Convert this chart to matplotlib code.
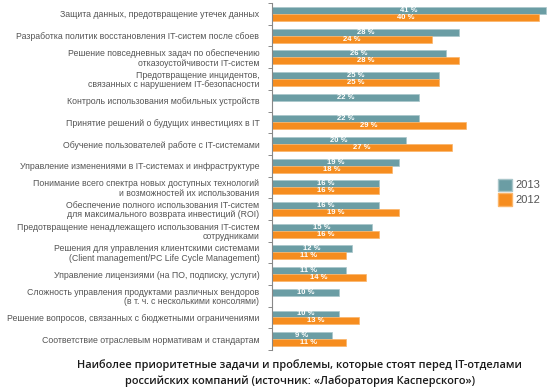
import matplotlib
matplotlib.use('Agg')
import numpy as np
from matplotlib import pyplot as plt
from matplotlib.patches import Patch

categories = [
    'Защита данных, предотвращение утечек данных',
    'Разработка политик восстановления IT-систем после сбоев',
    'Решение повседневных задач по обеспечению\nотказоустойчивости IT-систем',
    'Предотвращение инцидентов,\nсвязанных с нарушением IT-безопасности',
    'Контроль использования мобильных устройств',
    'Принятие решений о будущих инвестициях в IT',
    'Обучение пользователей работе с IT-системами',
    'Управление изменениями в IT-системах и инфраструктуре',
    'Понимание всего спектра новых доступных технологий\nи возможностей их использования',
    'Обеспечение полного использования IT-систем\nдля максимального возврата инвестиций (ROI)',
    'Предотвращение ненадлежащего использования IT-систем\nсотрудниками',
    'Решения для управления клиентскими системами\n(Client management/PC Life Cycle Management)',
    'Управление лицензиями (на ПО, подписку, услуги)',
    'Сложность управления продуктами различных вендоров\n(в т. ч. с несколькими консолями)',
    'Решение вопросов, связанных с бюджетными ограничениями',
    'Соответствие отраслевым нормативам и стандартам',
]
values_2013 = [41, 28, 26, 25, 22, 22, 20, 19, 16, 16, 15, 12, 11, 10, 10, 9]
values_2012 = [40, 24, 28, 25, None, 29, 27, 18, 16, 19, 16, 11, 14, None, 13, 11]

teal = '#6b9da4'
orange = '#f68d1f'

plt.rcParams['font.family'] = ['Liberation Sans', 'DejaVu Sans']

fig = plt.figure(figsize=(5.5, 3.88), dpi=100)
ax = fig.add_axes([0.4945, 0.098, 0.502, 0.894])

n = len(categories)
y = np.arange(n)
h = 0.32
for i in range(n):
    v13 = values_2013[i]
    v12 = values_2012[i]
    ax.barh(y[i] - h / 2, v13, height=h, color=teal, edgecolor='#a9c6ca', linewidth=0.5)
    ax.text(v13 / 2, y[i] - h / 2, '%d %%' % v13, ha='center', va='center',
            color='white', fontsize=5.5, fontweight='bold')
    if v12 is not None:
        ax.barh(y[i] + h / 2, v12, height=h, color=orange, edgecolor='#fbb56a', linewidth=0.5)
        ax.text(v12 / 2, y[i] + h / 2, '%d %%' % v12, ha='center', va='center',
                color='white', fontsize=5.5, fontweight='bold')

ax.set_xlim(0, 41.3)
ax.set_ylim(n - 0.5, -0.5)
ax.set_yticks(y)
ax.set_yticklabels(categories, fontsize=6.3, color='#555555', linespacing=1.05)
ax.set_yticks(np.arange(-0.5, n, 1.0), minor=True)
ax.tick_params(axis='y', which='major', length=0, pad=9)
ax.tick_params(axis='y', which='minor', length=3, color='#777777', width=0.6)
ax.set_xticks([])
for s in ['top', 'right', 'bottom']:
    ax.spines[s].set_visible(False)
ax.spines['left'].set_color('#888888')
ax.spines['left'].set_linewidth(0.8)

handles = [Patch(facecolor=teal, edgecolor='#a9c6ca', label='2013'),
           Patch(facecolor=orange, edgecolor='#fbb56a', label='2012')]
fig.legend(handles=handles, loc='center left', bbox_to_anchor=(0.895, 0.505),
           frameon=False, fontsize=8, labelcolor='#555555',
           handlelength=1.3, handleheight=1.3, handletextpad=0.3, labelspacing=0.25,
           borderpad=0)

fig.text(0.545, 0.058, 'Наиболее приоритетные задачи и проблемы, которые стоят перед IT-отделами',
         ha='center', va='center', fontsize=7.9, color='#1a1a1a', family='Open Sans',
         fontweight='semibold')
fig.text(0.545, 0.019, 'российских компаний (источник: «Лаборатория Касперского»)',
         ha='center', va='center', fontsize=7.9, color='#1a1a1a', family='Open Sans',
         fontweight='semibold')

fig.savefig('out.png', dpi=100)
